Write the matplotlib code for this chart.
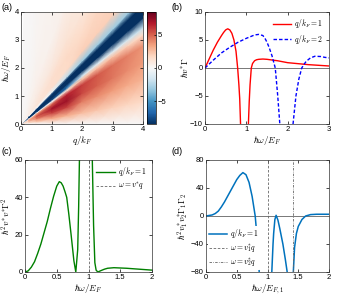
import numpy as np
import matplotlib
matplotlib.use("Agg")
import matplotlib.pyplot as plt

plt.rcParams["font.family"] = ["Liberation Sans", "DejaVu Sans"]
plt.rcParams["mathtext.fontset"] = "cm"
plt.rcParams["font.size"] = 5.5

# (a) heat map, stored on a (q, omega/q) table
heat_q = [0.0, 0.25, 0.5, 1.0, 1.5, 2.0, 2.5, 3.0, 3.5, 4.0]
heat_s = [0.0, 0.2, 0.4, 0.55, 0.7, 0.8, 0.86, 0.95, 1.06, 1.13, 1.3, 1.6, 2.0, 3.0, 5.0, 10.0, 40.0]
heat_vals = [
    [0, 0, 0, 0, 0, 0, 0, 0, 0, 0, 0, 0, 0, 0, 0, 0, 0],
    [0, 1.2, 2.2, 2.6, 2.0, 0, -8, -9, -8, 0, 0.6, 0.5, 0.4, 0.2, 0.1, 0.05, 0],
    [0, 2.4, 4.3, 5.0, 3.8, 0, -8, -9, -8, 0, 1.0, 0.9, 0.7, 0.4, 0.2, 0.1, 0],
    [0, 3.2, 5.8, 7.0, 5.0, 0, -8, -9, -8, -0.5, 1.4, 1.4, 0.95, 0.36, 0.2, 0.1, 0],
    [0, 3.0, 5.8, 7.2, 6.5, 1.5, -6, -10, -9, -2, 1.6, 1.7, 1.2, 0.5, 0.25, 0.1, 0],
    [0, 2.6, 4.3, 5.6, 5.8, 2.5, -1.5, -12, -10, -3, 2.0, 1.6, 1.0, 0.5, 0.2, 0.1, 0],
    [0, 2.3, 4.0, 5.0, 5.2, 2.5, -1, -12, -10, -3, 2.0, 1.8, 1.2, 0.6, 0.2, 0.1, 0],
    [0, 2.0, 3.6, 4.5, 4.6, 2.5, -1, -12, -10, -3, 2.0, 1.8, 1.2, 0.6, 0.2, 0.1, 0],
    [0, 1.8, 3.2, 4.0, 4.2, 2.0, -1.5, -12, -10, -3, 2.0, 1.8, 1.2, 0.6, 0.2, 0.1, 0],
    [0, 1.6, 2.9, 3.6, 3.8, 1.5, -2, -12, -10, -3, 1.8, 1.7, 1.1, 0.6, 0.2, 0.1, 0],
]

# (b) hbar v* Gamma, q/kF = 1 (two branches) and q/kF = 2
b1_left_x = [0, 0.1, 0.2, 0.3, 0.4, 0.45, 0.5, 0.55, 0.6, 0.65, 0.7, 0.75, 0.79, 0.82, 0.84, 0.86, 0.87]
b1_left_y = [0, 1.6, 3.2, 4.6, 5.8, 6.35, 6.8, 7.0, 6.8, 6.2, 5.0, 3.0, 0, -3, -5.5, -10, -13]
b1_right_x = [1.04, 1.05, 1.07, 1.09, 1.12, 1.15, 1.2, 1.25, 1.3, 1.4, 1.5, 1.75, 2.0, 2.5, 3.0]
b1_right_y = [-13, -10, -6, -3, 0, 0.8, 1.3, 1.48, 1.55, 1.6, 1.55, 1.3, 0.95, 0.6, 0.36]
b2_left_x = [0, 0.2, 0.4, 0.6, 0.8, 1.0, 1.2, 1.3, 1.4, 1.45, 1.5, 1.55, 1.62, 1.7, 1.76, 1.81, 1.83]
b2_left_y = [0, 1.4, 2.7, 3.7, 4.6, 5.3, 5.9, 6.0, 5.8, 5.3, 4.6, 3.7, 2.2, 0, -5, -10, -12]
b2_right_x = [2.11, 2.13, 2.2, 2.27, 2.34, 2.4, 2.45, 2.55, 2.66, 2.8, 2.9, 3.0]
b2_right_y = [-12, -10, -5, -2, 0, 0.7, 1.2, 1.8, 2.1, 2.05, 1.9, 1.8]

# (c) hbar^2 v*^2 Gamma^2, q/kF = 1
c_left_x = [0, 0.05, 0.1, 0.15, 0.2, 0.25, 0.3, 0.35, 0.4, 0.45, 0.5, 0.54, 0.57, 0.6,
            0.63, 0.657, 0.69, 0.726, 0.77, 0.8, 0.83, 0.845, 0.857, 0.865]
c_left_y = [0, 0.6, 2.6, 5.5, 10, 15, 21, 27, 34, 40.5, 46, 48.4, 47.8, 46,
            43, 40, 31, 20, 6, 0, 12, 35, 60, 75]
c_right_x = [1.05, 1.06, 1.08, 1.10, 1.12, 1.147, 1.2, 1.25, 1.3, 1.4, 1.6, 1.8, 2.0]
c_right_y = [75, 60, 25, 5, 1, 0, 0.8, 1.5, 2.0, 2.3, 2.0, 1.5, 1.0]
c_vline = 1.0

# (d) hbar^2 v1* v2* Gamma1 Gamma2, q/kF = 1
d_x1 = [0, 0.1, 0.15, 0.2, 0.25, 0.3, 0.35, 0.4, 0.45, 0.5, 0.55, 0.6, 0.65, 0.7, 0.75, 0.8, 0.83, 0.85, 0.865, 0.875]
d_y1 = [0, 1.5, 3.5, 7, 13, 20, 28, 36, 44, 52, 58, 62, 59, 48, 28, 0, -30, -55, -80, -100]
d_x2 = [1.06, 1.07, 1.09, 1.1, 1.12, 1.14, 1.17, 1.2, 1.25, 1.29, 1.32, 1.33]
d_y2 = [-100, -80, -40, -25, -5, 1, -6, -18, -40, -62, -80, -95]
d_x3 = [1.415, 1.42, 1.44, 1.47, 1.5, 1.56, 1.62, 1.7, 1.8, 2.0]
d_y3 = [-100, -80, -45, -25, -15, -5, 0, 2, 2.5, 2.5]
d_v1, d_v2 = 1.0, 1.41

W, H = 345, 298
fig = plt.figure(figsize=(W / 100, H / 100), dpi=100)


def box(l, t, r, b):
    return fig.add_axes([l / W, 1 - b / H, (r - l) / W, (b - t) / H])


def style(ax):
    ax.tick_params(direction="in", length=2, width=0.5, pad=1.5, labelsize=5.5,
                   top=True, right=True)
    for sp in ax.spines.values():
        sp.set_linewidth(0.5)
        sp.set_edgecolor("#333333")


# --- (a)
ax = box(21, 12, 143, 124)
q = np.array(heat_q)[:, None]
s = np.array(heat_s)[None, :]
X = q * np.ones_like(s)
Y = q * s
pm = ax.pcolormesh(X, Y, np.array(heat_vals), cmap="RdBu_r", vmin=-8.4, vmax=8.4,
                   shading="gouraud", rasterized=True)
ax.set_xlim(0, 4)
ax.set_ylim(0, 4)
ax.set_xticks([0, 1, 2, 3, 4])
ax.set_yticks([0, 1, 2, 3, 4])
ax.set_xlabel(r"$q/k_F$", labelpad=0.5, fontsize=6.5)
ax.set_ylabel(r"$\hbar\omega/E_F$", labelpad=1, fontsize=6.5)
style(ax)
cax = box(147, 12, 156, 124)
cb = fig.colorbar(pm, cax=cax, ticks=[-5, 0, 5])
cb.ax.tick_params(labelsize=5.5, length=1.5, width=0.5, direction="in", pad=1.5)
cb.outline.set_linewidth(0.5)

# --- (b)
ax = box(205, 12, 329, 124)
ax.axhline(0, color="#777777", lw=0.7)
ax.plot(b1_left_x, b1_left_y, color="red", lw=1.0, label=r"$q/k_F=1$")
ax.plot(b1_right_x, b1_right_y, color="red", lw=1.0)
ax.plot(b2_left_x, b2_left_y, color="blue", lw=1.0, ls=(0, (2.5, 1.5)), label=r"$q/k_F=2$")
ax.plot(b2_right_x, b2_right_y, color="blue", lw=1.0, ls=(0, (2.5, 1.5)))
ax.set_xlim(0, 3)
ax.set_ylim(-10, 10)
ax.set_xticks([0, 1, 2, 3])
ax.set_yticks([-10, -5, 0, 5, 10])
ax.set_xlabel(r"$\hbar\omega/E_F$", labelpad=0.5, fontsize=6.5)
ax.set_ylabel(r"$\hbar v^{*}\Gamma$", labelpad=0, fontsize=6.5)
ax.legend(loc="upper right", frameon=False, fontsize=5.5, handlelength=2.4,
          borderaxespad=0.3, labelspacing=0.3, handletextpad=0.4)
style(ax)

# --- (c)
ax = box(25, 160, 152, 272)
ax.plot(c_left_x, c_left_y, color="#008000", lw=1.0, label=r"$q/k_F=1$")
ax.plot(c_right_x, c_right_y, color="#008000", lw=1.0)
ax.axvline(c_vline, color="#666666", lw=0.6, ls=(0, (3, 2)), label=r"$\omega=v^{*}q$")
ax.set_xlim(0, 2)
ax.set_ylim(0, 60)
ax.set_xticks([0, 0.5, 1, 1.5, 2])
ax.set_xticklabels(["0", "0.5", "1", "1.5", "2"])
ax.set_yticks([0, 20, 40, 60])
ax.set_xlabel(r"$\hbar\omega/E_F$", labelpad=0.5, fontsize=6.5)
ax.set_ylabel(r"$\hbar^2 v^{*}v^{*}\Gamma^2$", labelpad=1, fontsize=6.5)
ax.legend(loc="upper right", frameon=False, fontsize=5.5, handlelength=2.4,
          borderaxespad=0.3, labelspacing=0.3, handletextpad=0.4)
style(ax)

# --- (d)
ax = box(206, 160, 329, 272)
ax.axhline(0, color="#777777", lw=0.7)
ax.plot(d_x1, d_y1, color="#0072BD", lw=1.1, label=r"$q/k_F=1$")
ax.plot(d_x2, d_y2, color="#0072BD", lw=1.1)
ax.plot(d_x3, d_y3, color="#0072BD", lw=1.1)
ax.axvline(d_v1, color="#666666", lw=0.6, ls=(0, (3, 2)), label=r"$\omega=v_1^{*}q$")
ax.axvline(d_v2, color="#666666", lw=0.6, ls=(0, (3, 1.5, 0.8, 1.5)), label=r"$\omega=v_2^{*}q$")
ax.set_xlim(0, 2)
ax.set_ylim(-80, 80)
ax.set_xticks([0, 0.5, 1, 1.5, 2])
ax.set_xticklabels(["0", "0.5", "1", "1.5", "2"])
ax.set_yticks([-80, -40, 0, 40, 80])
ax.set_xlabel(r"$\hbar\omega/E_{F,1}$", labelpad=0.5, fontsize=6.5)
ax.set_ylabel(r"$\hbar^2 v_1^{*}v_2^{*}\Gamma_1\Gamma_2$", labelpad=0, fontsize=6.5)
lg = ax.legend(loc="lower left", frameon=True, fontsize=5.5, handlelength=2.4,
               borderaxespad=0.2, labelspacing=0.3, handletextpad=0.4, borderpad=0.2)
lg.get_frame().set_edgecolor("none")
lg.get_frame().set_alpha(1)
style(ax)

for lab, x, y in [("(a)", 1, 8), ("(b)", 172, 8), ("(c)", 1, 152), ("(d)", 172, 152)]:
    fig.text(x / W, 1 - y / H, lab, fontsize=6.5, va="center", ha="left")

fig.savefig("out.png", dpi=100)
